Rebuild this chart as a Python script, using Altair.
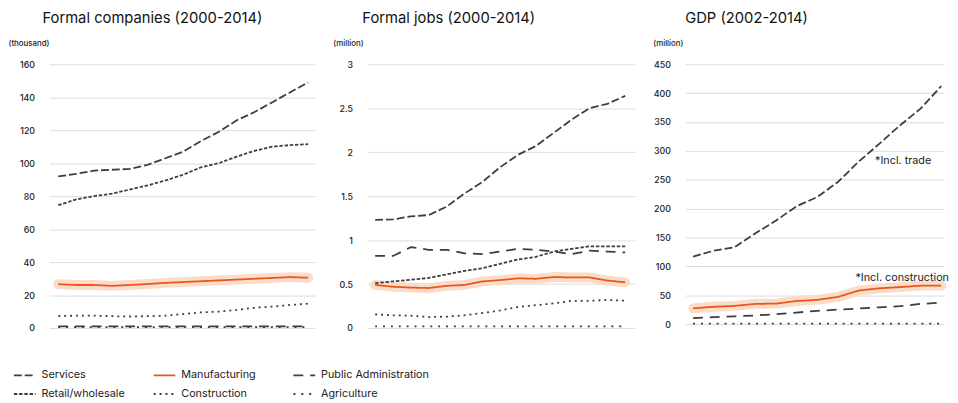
import altair as alt
import pandas as pd

# ---------------- data ----------------
series_order = ["Services", "Manufacturing", "Public Administration",
                "Retail/wholesale", "Construction", "Agriculture"]

years_a = list(range(2000, 2015))
years_gdp = list(range(2002, 2015))

# Formal companies (thousand)
comp_services = [92, 93.5, 95.5, 96, 96.5, 99, 103, 107, 113.5, 119, 126, 131, 137, 143, 149]
comp_retail = [74.5, 78, 80, 81.5, 84, 86.5, 89.5, 93, 97.5, 100, 104, 107.5, 110, 111, 111.5]
comp_manuf = [26.6, 26.1, 26.1, 25.6, 26.1, 26.7, 27.4, 27.9, 28.4, 28.9, 29.4, 29.9, 30.4, 30.9, 30.5]
comp_constr = [7.3, 7.5, 7.5, 7.2, 7.0, 7.2, 7.5, 8.5, 9.5, 10, 11, 12.3, 13, 14, 14.8]
comp_pubadm = [1.0] * 15
comp_agri = [0.6] * 15

# Formal jobs (million)
jobs_services = [1.23, 1.235, 1.27, 1.285, 1.38, 1.53, 1.66, 1.83, 1.97, 2.07, 2.22, 2.37, 2.5, 2.55, 2.64]
jobs_pubadm = [0.82, 0.82, 0.92, 0.89, 0.89, 0.85, 0.84, 0.87, 0.9, 0.89, 0.87, 0.84, 0.88, 0.87, 0.86]
jobs_retail = [0.51, 0.53, 0.55, 0.57, 0.61, 0.65, 0.68, 0.73, 0.78, 0.81, 0.87, 0.9, 0.93, 0.93, 0.93]
jobs_manuf = [0.49, 0.47, 0.46, 0.455, 0.48, 0.49, 0.53, 0.545, 0.565, 0.56, 0.58, 0.575, 0.575, 0.54, 0.52]
jobs_constr = [0.155, 0.145, 0.14, 0.125, 0.13, 0.145, 0.17, 0.2, 0.24, 0.26, 0.28, 0.31, 0.31, 0.32, 0.31]
jobs_agri = [0.02] * 15

# GDP (million)
gdp_services = [117, 127, 133, 157, 179, 204, 220, 246, 281, 312, 344, 373, 412]
gdp_manuf = [27.3, 30, 31.5, 35, 35.5, 40, 42, 47, 58, 62, 64, 66.5, 66.5]
gdp_pubadm = [10.3, 12, 13.5, 15, 17, 20, 23, 25, 27, 29, 31, 35, 37]
gdp_agri = [0.8] * 13

# annotations (GDP panel)
note_text = ["*Incl. trade", "*Incl. construction"]
note_year = [2010.8, 2009.85]
note_value = [283, 80]

# ---------------- styles ----------------
dash_range = [[8, 3], [1, 0], [10, 7], [3.5, 1.8], [2, 4], [2, 6]]
color_range = ["#3d3d3d", "#E8571F", "#3d3d3d", "#3d3d3d", "#3d3d3d", "#3d3d3d"]
FONT = "Inter"


def long_df(years, d):
    rows = []
    for name, vals in d.items():
        for y, v in zip(years, vals):
            rows.append({"year": y, "series": name, "value": v})
    return pd.DataFrame(rows)


df_comp = long_df(years_a, {
    "Services": comp_services, "Retail/wholesale": comp_retail,
    "Manufacturing": comp_manuf, "Construction": comp_constr,
    "Public Administration": comp_pubadm, "Agriculture": comp_agri})
df_jobs = long_df(years_a, {
    "Services": jobs_services, "Public Administration": jobs_pubadm,
    "Retail/wholesale": jobs_retail, "Manufacturing": jobs_manuf,
    "Construction": jobs_constr, "Agriculture": jobs_agri})
df_gdp = long_df(years_gdp, {
    "Services": gdp_services, "Manufacturing": gdp_manuf,
    "Public Administration": gdp_pubadm, "Agriculture": gdp_agri})
df_notes = pd.DataFrame({"year": note_year, "value": note_value, "label": note_text})

color_scale = alt.Scale(domain=series_order, range=color_range)
dash_scale = alt.Scale(domain=series_order, range=dash_range)

legend = alt.Legend(
    orient="none", legendX=-37, legendY=304, columns=3, direction="horizontal",
    symbolType="stroke", symbolSize=484, symbolStrokeWidth=1.8,
    labelFontSize=11, labelFont=FONT, labelColor="#222", labelOffset=5,
    rowPadding=2, columnPadding=0, gridAlign="all", padding=0, title=None)


def panel(df, title, unit, ticks, ydom, xdom, w, h, title_dx, unit_x, notes=None):
    x = alt.X("year:Q", scale=alt.Scale(domain=xdom, nice=False, zero=False), axis=None)
    y = alt.Y("value:Q", scale=alt.Scale(domain=ydom, nice=False),
              axis=alt.Axis(values=ticks, format="~r", title=unit, titleAngle=0,
                            titleAlign="left", labelOverlap=False,
                            titleBaseline="alphabetic", titleX=unit_x, titleY=-19,
                            titleFontSize=8, titleFontWeight=500, titleColor="#222",
                            titleFont=FONT))
    halo = alt.Chart(df).transform_filter(alt.datum.series == "Manufacturing").mark_line(
        strokeWidth=10, strokeCap="round", strokeJoin="round", color="#FADCC8"
    ).encode(x=x, y=y)
    lines = alt.Chart(df).mark_line(strokeWidth=1.8).encode(
        x=x, y=y,
        color=alt.Color("series:N", scale=color_scale, legend=legend,
                        sort=series_order),
        strokeDash=alt.StrokeDash("series:N", scale=dash_scale, legend=legend,
                                  sort=series_order),
        detail="series:N",
    )
    layers = [halo, lines]
    if notes is not None:
        layers.append(alt.Chart(notes).mark_text(
            align="left", baseline="middle", fontSize=11, font=FONT, color="#222"
        ).encode(x=x, y=y, text="label:N"))
    return alt.layer(*layers).properties(
        width=w, height=h,
        title=alt.TitleParams(title, anchor="start", frame="group", dx=title_dx))


p1 = panel(df_comp, "Formal companies (2000-2014)", "(thousand)",
           [0, 20, 40, 60, 80, 100, 120, 140, 160], [0, 160],
           [1999.5, 2014.39], 270, 268, -7, -42)
p2 = panel(df_jobs, "Formal jobs (2000-2014)", "(million)",
           [0, 0.5, 1, 1.5, 2, 2.5, 3], [0, 3],
           [1999.56, 2014.55], 272, 268, -5, -35)
p3 = panel(df_gdp, "GDP (2002-2014)", "(million)",
           [0, 50, 100, 150, 200, 250, 300, 350, 400, 450], [0, 450],
           [2001.62, 2014.14], 263, 264, 0, -33, notes=df_notes)

chart = alt.hconcat(p1, p2, p3, spacing=18).configure(
    padding=0, font=FONT
).configure_view(stroke=None).configure_axisY(
    domain=False, ticks=False, tickSize=0, labelPadding=15,
    labelFontSize=9, labelFontWeight=500, labelColor="#222", labelFont=FONT,
    gridColor="#dcdcdc", gridWidth=1
).configure_title(
    fontSize=15, font=FONT, fontWeight="normal", color="#111",
    offset=14, baseline="alphabetic"
)

chart.save("out.html", embed_options={"renderer": "svg", "actions": False})
